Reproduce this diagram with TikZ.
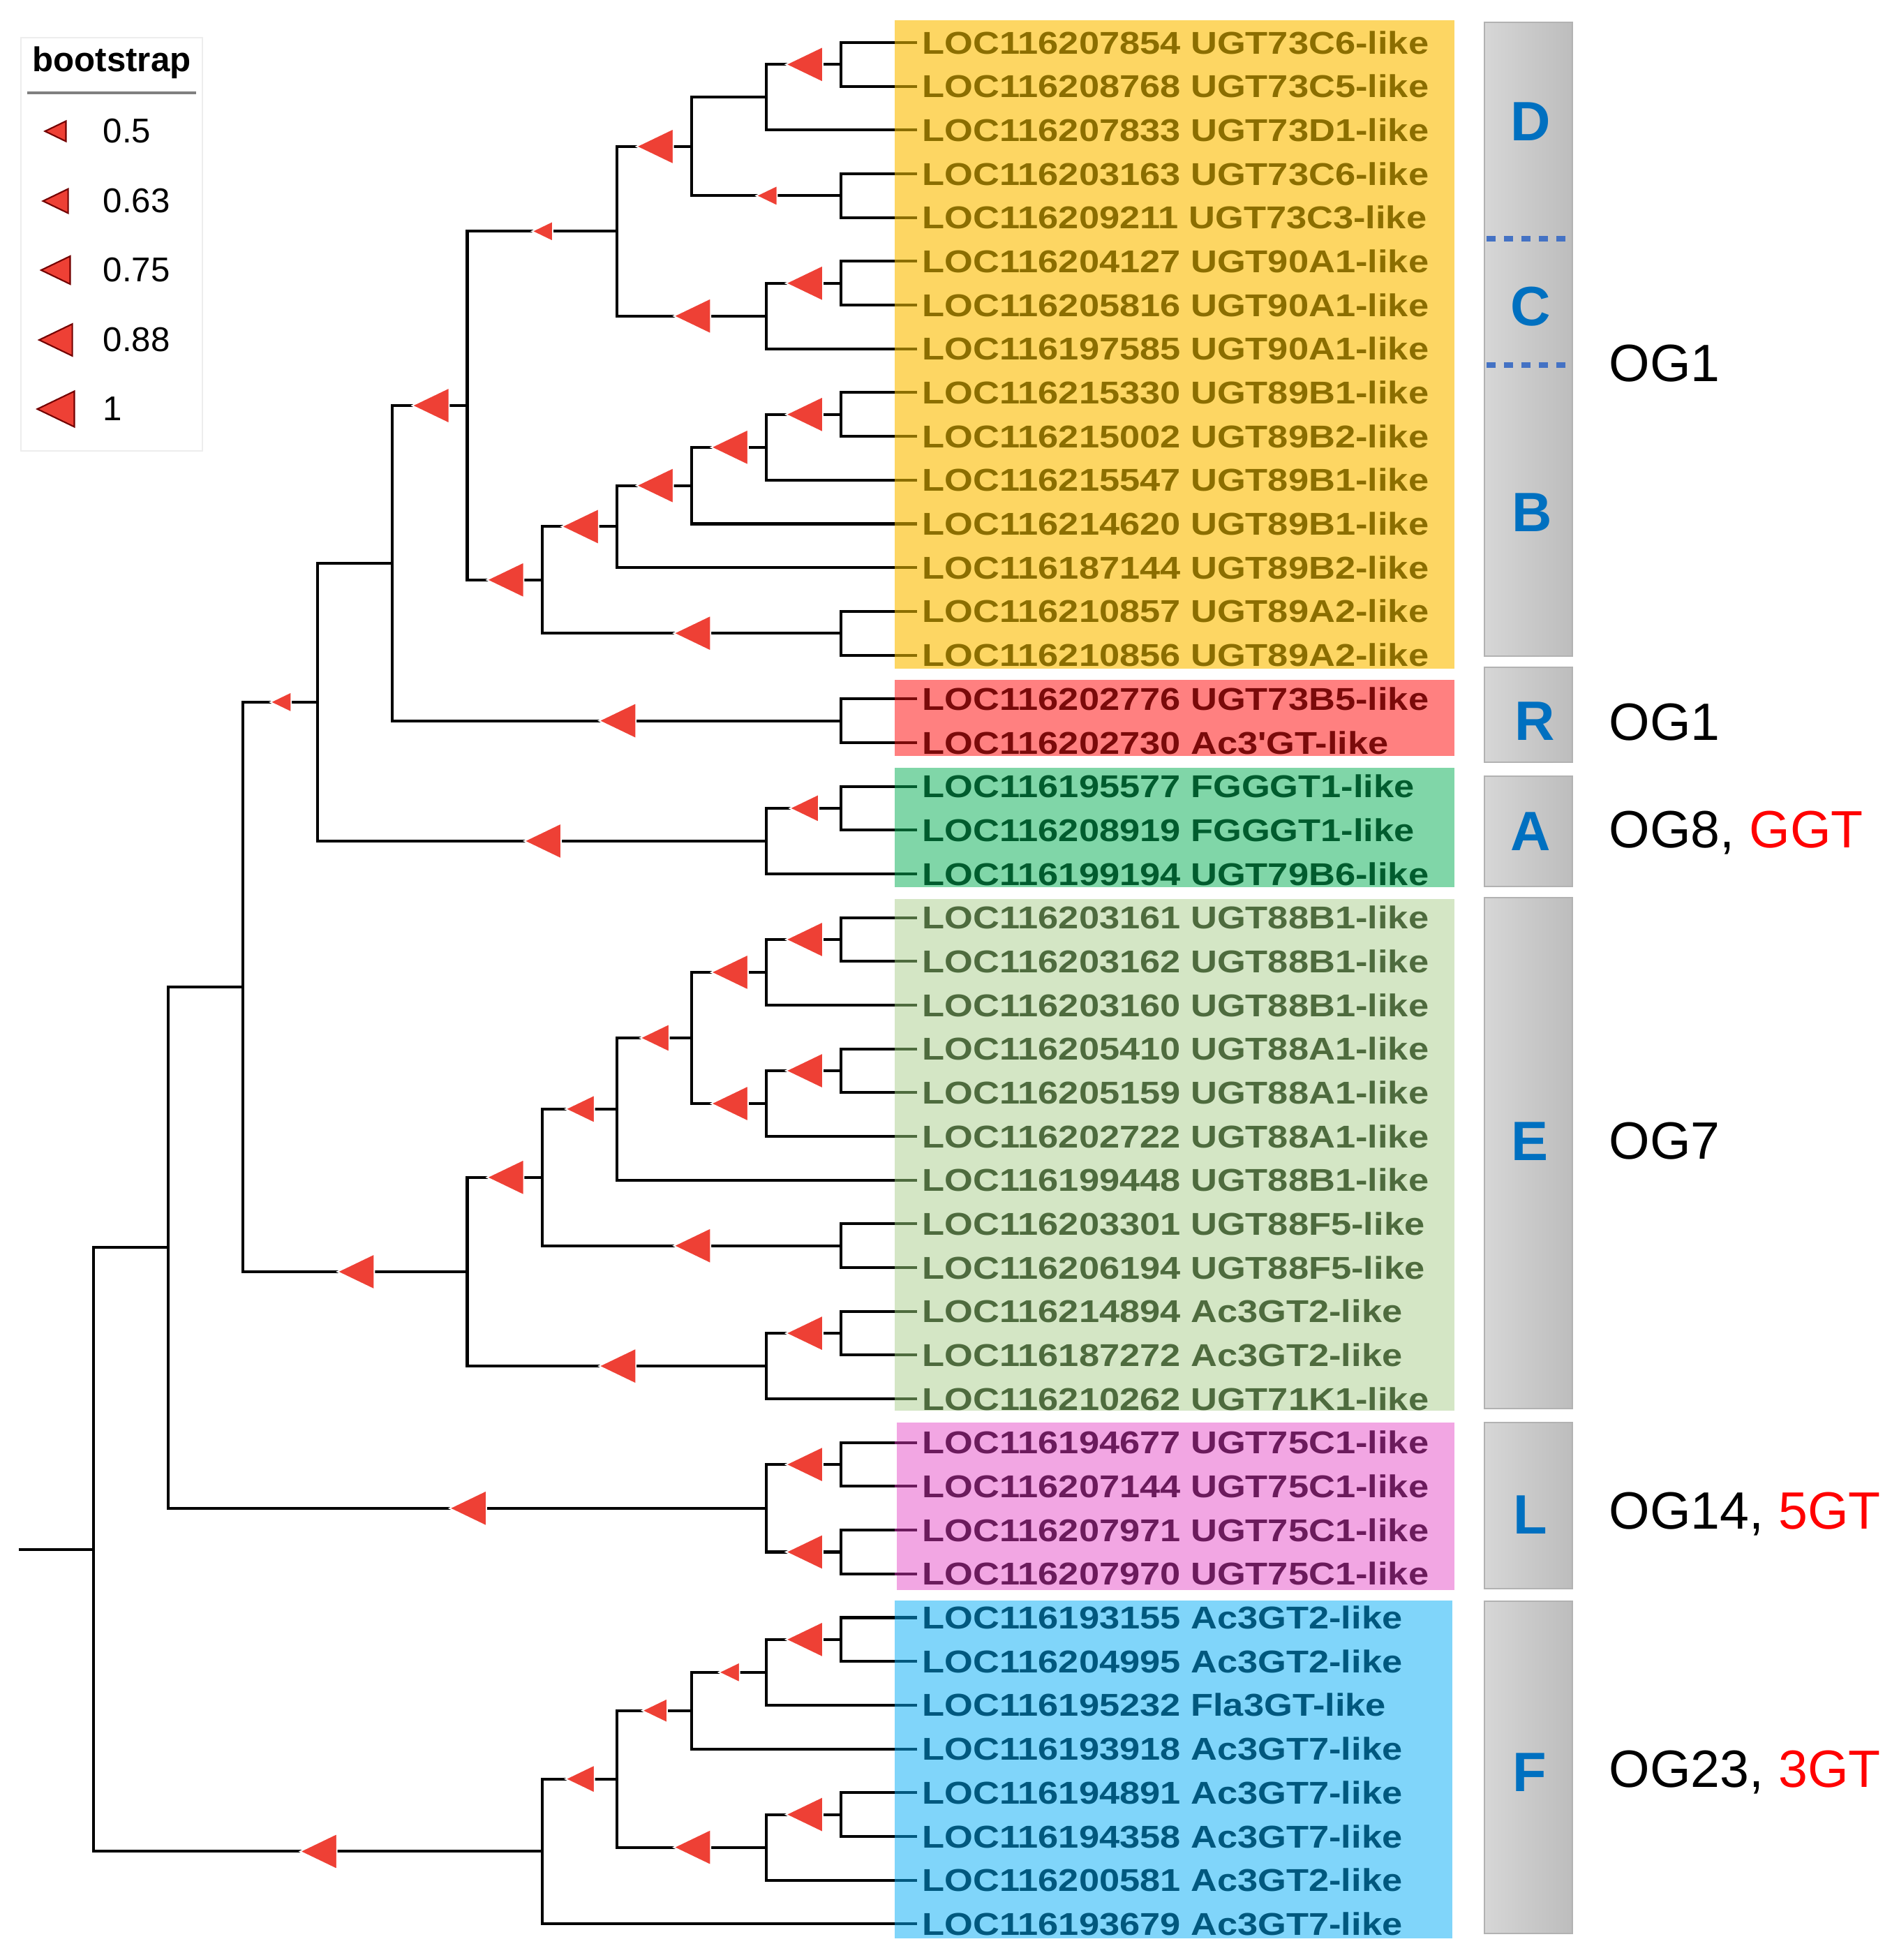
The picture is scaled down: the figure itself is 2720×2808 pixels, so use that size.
\documentclass[tikz,border=0pt]{standalone}
\usepackage{fontspec}
\setmainfont{Liberation Sans}
\newfontfamily\leaffont[FakeStretch=1.16]{Liberation Sans Bold}
\usetikzlibrary{shapes.geometric}

\definecolor{bootred}{HTML}{EE4035}
\definecolor{yelbox}{HTML}{FDD663}
\definecolor{yeltxt}{HTML}{8B6E00}
\definecolor{redbox}{HTML}{FF8080}
\definecolor{redtxt}{HTML}{7A0A0A}
\definecolor{grnbox}{HTML}{80D6A8}
\definecolor{grntxt}{HTML}{005C2E}
\definecolor{ltgbox}{HTML}{D4E6C5}
\definecolor{ltgtxt}{HTML}{4E6B3E}
\definecolor{pnkbox}{HTML}{F2A6E3}
\definecolor{pnktxt}{HTML}{6B1B5C}
\definecolor{blubox}{HTML}{80D5FA}
\definecolor{blutxt}{HTML}{00587E}
\definecolor{cladeblue}{HTML}{0070C0}
\definecolor{dotblue}{HTML}{4472C4}
\definecolor{ogred}{HTML}{FF0000}

\tikzset{
  branch/.style={line width=1.15pt, black},
  boot/.style={isosceles triangle, isosceles triangle stretches, shape border rotate=180,
    fill=bootred, draw=white, line width=0.5pt, inner sep=0pt, outer sep=0pt,
    minimum width=0.07cm+0.44cm*#1, minimum height=0.07cm+0.46cm*#1,
    anchor=apex, xshift=-0.035cm-0.22cm*#1},
  leaflab/.style={anchor=base west, xshift=0.39cm, yshift=-0.161cm, inner sep=0pt,
    font=\leaffont\fontsize{12.85}{15}\selectfont},
  hilite/.style={fill=#1, draw=none},
  greybox/.style={left color=black!16, right color=black!26, draw=black!30, line width=0.6pt},
  cladelet/.style={text=cladeblue, font=\bfseries\fontsize{22.6}{26}\selectfont},
  oglab/.style={anchor=west, inner sep=0pt, font=\fontsize{21.4}{25}\selectfont},
  sepline/.style={dotblue, line width=2pt, dash pattern=on 3.56pt off 3.56pt}
}

\begin{document}
\begin{tikzpicture}[x=0.01cm, y=-0.01cm]
  \useasboundingbox (0,0) rectangle (2720,2808);

  % clade highlights
  \fill[hilite=yelbox] (1282,29) rectangle (2084,958);
  \fill[hilite=redbox] (1282,974) rectangle (2084,1083);
  \fill[hilite=grnbox] (1282,1100) rectangle (2084,1271);
  \fill[hilite=ltgbox] (1282,1288) rectangle (2084,2021);
  \fill[hilite=pnkbox] (1285,2038) rectangle (2084,2278);
  \fill[hilite=blubox] (1282,2293) rectangle (2081,2777);

  % tips
  \foreach \i/\tag/\col in {
      1/LOC116207854 UGT73C6-like/yeltxt, 2/LOC116208768 UGT73C5-like/yeltxt,
      3/LOC116207833 UGT73D1-like/yeltxt, 4/LOC116203163 UGT73C6-like/yeltxt,
      5/LOC116209211 UGT73C3-like/yeltxt, 6/LOC116204127 UGT90A1-like/yeltxt,
      7/LOC116205816 UGT90A1-like/yeltxt, 8/LOC116197585 UGT90A1-like/yeltxt,
      9/LOC116215330 UGT89B1-like/yeltxt, 10/LOC116215002 UGT89B2-like/yeltxt,
      11/LOC116215547 UGT89B1-like/yeltxt, 12/LOC116214620 UGT89B1-like/yeltxt,
      13/LOC116187144 UGT89B2-like/yeltxt, 14/LOC116210857 UGT89A2-like/yeltxt,
      15/LOC116210856 UGT89A2-like/yeltxt,
      16/LOC116202776 UGT73B5-like/redtxt, 17/LOC116202730 Ac3'GT-like/redtxt,
      18/LOC116195577 FGGGT1-like/grntxt, 19/LOC116208919 FGGGT1-like/grntxt,
      20/LOC116199194 UGT79B6-like/grntxt,
      21/LOC116203161 UGT88B1-like/ltgtxt, 22/LOC116203162 UGT88B1-like/ltgtxt,
      23/LOC116203160 UGT88B1-like/ltgtxt, 24/LOC116205410 UGT88A1-like/ltgtxt,
      25/LOC116205159 UGT88A1-like/ltgtxt, 26/LOC116202722 UGT88A1-like/ltgtxt,
      27/LOC116199448 UGT88B1-like/ltgtxt, 28/LOC116203301 UGT88F5-like/ltgtxt,
      29/LOC116206194 UGT88F5-like/ltgtxt, 30/LOC116214894 Ac3GT2-like/ltgtxt,
      31/LOC116187272 Ac3GT2-like/ltgtxt, 32/LOC116210262 UGT71K1-like/ltgtxt,
      33/LOC116194677 UGT75C1-like/pnktxt, 34/LOC116207144 UGT75C1-like/pnktxt,
      35/LOC116207971 UGT75C1-like/pnktxt, 36/LOC116207970 UGT75C1-like/pnktxt,
      37/LOC116193155 Ac3GT2-like/blutxt, 38/LOC116204995 Ac3GT2-like/blutxt,
      39/LOC116195232 Fla3GT-like/blutxt, 40/LOC116193918 Ac3GT7-like/blutxt,
      41/LOC116194891 Ac3GT7-like/blutxt, 42/LOC116194358 Ac3GT7-like/blutxt,
      43/LOC116200581 Ac3GT2-like/blutxt, 44/LOC116193679 Ac3GT7-like/blutxt}{
    \coordinate (tip\i) at (1282, {61+62.68*(\i-1)});
    \draw[line width=1.15pt, \col] (tip\i) -- ++(32,0);
    \node[leaflab, text=\col] (lab\i) at (tip\i) {\tag};
  }

  % inner nodes: name / depth / mean tip index
  \foreach \n/\lv/\k in {
      a1/11/1.5, a2/10/2.25, a3/11/4.5, a4/9/3.375, a5/11/6.5, a6/10/7.25, a7/8/5.3125,
      b1/11/9.5, b2/10/10.25, b3/9/11.125, b4/8/12.0625, b5/11/14.5, b6/7/13.28125,
      c1/6/9.296875, r1/11/16.5, c2/5/12.8984375, g1/11/18.5, g2/10/19.25,
      c3/4/16.07421875, e1/11/21.5, e2/10/22.25, e3/11/24.5, e4/10/25.25, e5/9/23.75,
      e6/8/25.375, e7/11/28.5, e8/7/26.9375, e9/11/30.5, e10/10/31.25, e11/6/29.09375,
      c4/3/22.583984375, l1/11/33.5, l2/11/35.5, l3/10/34.5, c5/2/28.5419921875,
      f1/11/37.5, f2/10/38.25, f3/9/39.125, f4/11/41.5, f5/10/42.25, f6/8/40.6875,
      f7/7/42.34375, root/1/35.44287109375, stub/0/35.44287109375}
    \coordinate (\n) at ({134+107.1*(\lv-1)}, {61+62.68*(\k-1)});

  \draw[branch] (stub) -- (root);
  \foreach \p/\c in {a4/a2, c3/c2, c5/c4, root/c5}
    \draw[branch] (\p) |- (\c);
  \foreach \p/\c in {a1/tip1, a1/tip2, a2/tip3, a3/tip4, a3/tip5, a5/tip6, a5/tip7,
      a6/tip8, b1/tip9, b1/tip10, b2/tip11, b3/tip12, b4/tip13, b5/tip14, b5/tip15,
      r1/tip16, r1/tip17, g1/tip18, g1/tip19, g2/tip20, e1/tip21, e1/tip22, e2/tip23,
      e3/tip24, e3/tip25, e4/tip26, e6/tip27, e7/tip28, e7/tip29, e9/tip30, e9/tip31,
      e10/tip32, l1/tip33, l1/tip34, l2/tip35, l2/tip36, f1/tip37, f1/tip38, f2/tip39,
      f3/tip40, f4/tip41, f4/tip42, f5/tip43, f7/tip44}
    \draw[branch] (\p) |- (\c);
  \foreach \p/\c/\v in {a2/a1/1, a4/a3/0.5, a7/a4/1, a6/a5/1, a7/a6/1, c1/a7/0.5,
      b2/b1/1, b3/b2/1, b4/b3/1, b6/b4/1, b6/b5/1, c1/b6/1, c2/c1/1,
      c2/r1/1, g2/g1/0.75, c3/g2/1, c4/c3/0.5,
      e2/e1/1, e5/e2/1, e4/e3/1, e5/e4/1, e6/e5/0.75, e8/e6/0.75, e8/e7/1,
      e11/e8/1, e10/e9/1, e11/e10/1, c4/e11/1,
      l3/l1/1, l3/l2/1, c5/l3/1,
      f2/f1/1, f3/f2/0.5, f6/f3/0.63, f5/f4/1, f6/f5/1, f7/f6/0.75, root/f7/1}
    \draw[branch] (\p) |- node[boot=\v, pos=0.75] {} (\c);

  % legend
  \draw[draw=black!7, fill=white] (30,54) rectangle (290,646);
  \node[font=\bfseries\fontsize{14}{16}\selectfont] (legtitle) at (160,90) {bootstrap};
  \draw[black!50, line width=0.9pt] (39,133) -- (281,133);
  \foreach \j/\v/\yy in {1/0.5/188, 2/0.63/288, 3/0.75/387, 4/0.88/487, 5/1/586}{
    \node[boot=\v, draw=red!45!black, line width=0.6pt] (legtri\j) at (79,\yy) {};
    \node[anchor=west, inner sep=0pt, font=\fontsize{14}{16}\selectfont] (legval\j) at (147,\yy) {\v};
  }

  % clade bars
  \draw[greybox] (2127,32) rectangle (2253,940);
  \draw[greybox] (2127,956) rectangle (2253,1092);
  \draw[greybox] (2127,1112) rectangle (2253,1270);
  \draw[greybox] (2127,1286) rectangle (2253,2018);
  \draw[greybox] (2127,2038) rectangle (2253,2276);
  \draw[greybox] (2127,2294) rectangle (2253,2770);
  \draw[sepline] (2130,342) -- (2250,342);
  \draw[sepline] (2130,523) -- (2250,523);

  \node[cladelet] (cladeD) at (2193,174) {D};
  \node[cladelet] (cladeC) at (2193,439) {C};
  \node[cladelet] (cladeB) at (2195,734) {B};
  \node[cladelet] (cladeR) at (2199,1033) {R};
  \node[cladelet] (cladeA) at (2193,1191) {A};
  \node[cladelet] (cladeE) at (2192,1635) {E};
  \node[cladelet] (cladeL) at (2193,2170) {L};
  \node[cladelet] (cladeF) at (2192,2539) {F};

  \node[oglab] (ogB) at (2305,521) {OG1};
  \node[oglab] (ogR) at (2305,1035) {OG1};
  \node[oglab] (ogA) at (2305,1193) {OG8, \textcolor{ogred}{GGT}};
  \node[oglab] (ogE) at (2305,1635) {OG7};
  \node[oglab] (ogL) at (2305,2169) {OG14, \textcolor{ogred}{5GT}};
  \node[oglab] (ogF) at (2305,2539) {OG23, \textcolor{ogred}{3GT}};
\end{tikzpicture}
\end{document}
